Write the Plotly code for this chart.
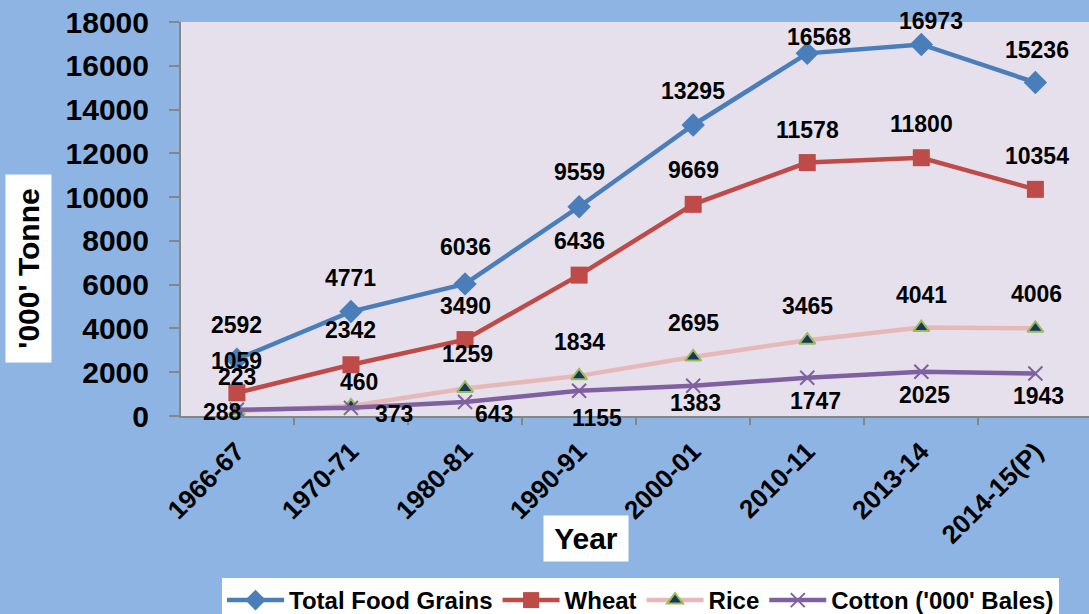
import plotly.graph_objects as go

years = ["1966-67", "1970-71", "1980-81", "1990-91", "2000-01", "2010-11", "2013-14", "2014-15(P)"]
total = [2592, 4771, 6036, 9559, 13295, 16568, 16973, 15236]
wheat = [1059, 2342, 3490, 6436, 9669, 11578, 11800, 10354]
rice = [223, 460, 1259, 1834, 2695, 3465, 4041, 4006]
cotton = [288, 373, 643, 1155, 1383, 1747, 2025, 1943]

names = ["Total Food Grains", "Wheat", "Rice", "Cotton ('000' Bales)"]

# label offsets (pixels) per series
shifts = {
    "total": ([0, 0, 0, 0, 0, 12, 10, 2], [34, 34, 37, 35, 34, 16, 23, 33]),
    "wheat": ([0, 0, 0, 0, 0, 0, 0, 2], [32, 35, 34, 34, 34, 33, 34, 33]),
    "rice": ([0, 8, 2, 0, 0, 0, 0, 1], [34, 24, 34, 34, 34, 34, 33, 34]),
    "cotton": ([-14, 43, 29, 18, 2, 8, 3, 3], [-2, -6, -12, -27, -17, -23, -23, -23]),
}

FONT = "Liberation Sans, Arial, sans-serif"
BOLD = dict(family=FONT, weight="bold", color="black")

fig = go.Figure()
fig.add_trace(go.Scatter(x=years, y=total, name=names[0], mode="lines+markers",
                         line=dict(color="#4A7EBB", width=4.5),
                         marker=dict(symbol="diamond", size=18, color="#4A7EBB")))
fig.add_trace(go.Scatter(x=years, y=wheat, name=names[1], mode="lines+markers",
                         line=dict(color="#BE4B48", width=4.5),
                         marker=dict(symbol="square", size=17, color="#BE4B48")))
fig.add_trace(go.Scatter(x=years, y=rice, name=names[2], mode="lines+markers",
                         line=dict(color="#E6B9B8", width=4.5),
                         marker=dict(symbol="triangle-up", size=14, color="#17375E",
                                     line=dict(color="#9BBB59", width=2))))
fig.add_trace(go.Scatter(x=years, y=cotton, name=names[3], mode="lines+markers",
                         line=dict(color="#7F60A0", width=4.5),
                         marker=dict(symbol="x-thin", size=14,
                                     line=dict(color="#7F60A0", width=2))))

annotations = []
for key, vals in [("total", total), ("wheat", wheat), ("rice", rice), ("cotton", cotton)]:
    xs, ys = shifts[key]
    for i, (yr, v) in enumerate(zip(years, vals)):
        annotations.append(dict(x=yr, y=v, xref="x", yref="y", text=str(v), showarrow=False,
                                xshift=xs[i], yshift=ys[i], font=dict(size=23, **BOLD)))

annotations.append(dict(x=-0.1685, y=0.373, xref="paper", yref="paper", text="'000' Tonne",
                        xanchor="center", yanchor="middle",
                        textangle=-90, showarrow=False, bgcolor="white", borderpad=4,
                        width=179, height=37,
                        font=dict(size=30, **BOLD)))
annotations.append(dict(x=0.446, y=-0.311, xref="paper", yref="paper", text="Year",
                        xanchor="center", yanchor="middle",
                        showarrow=False, bgcolor="white", borderpad=4, width=76, height=37,
                        font=dict(size=30, **BOLD)))

fig.update_layout(
    width=1089, height=614,
    margin=dict(l=181, r=0, t=22, b=198),
    paper_bgcolor="#8DB4E2",
    plot_bgcolor="#E6E0EC",
    showlegend=True,
    legend=dict(orientation="h", xref="container", yref="container",
                x=222 / 1089, y=(614 - 578) / 614, xanchor="left", yanchor="top",
                bgcolor="white", itemwidth=57, traceorder="normal",
                font=dict(family=FONT, size=24, weight="bold", color="black")),
    annotations=annotations,
    xaxis=dict(type="category", range=[-0.49, 7.47], showgrid=False, showline=True,
               automargin=False,
               linecolor="#868686", linewidth=2, ticks="outside", tickson="boundaries",
               ticklen=7, tickcolor="#868686", tickwidth=2, tickangle=-45,
               ticklabelstandoff=8,
               tickfont=dict(size=26, **BOLD)),
    yaxis=dict(range=[0, 18000], dtick=2000, tickformat="d", showgrid=False, showline=True,
               automargin=False,
               zeroline=False, linecolor="#868686", linewidth=2, ticks="outside", ticklen=10,
               ticklabelstandoff=14,
               tickcolor="#868686", tickwidth=2, tickfont=dict(size=30, **BOLD)),
)

fig.write_html("out.html", config={"displayModeBar": False},
               post_script="document.body.style.margin='0';")
